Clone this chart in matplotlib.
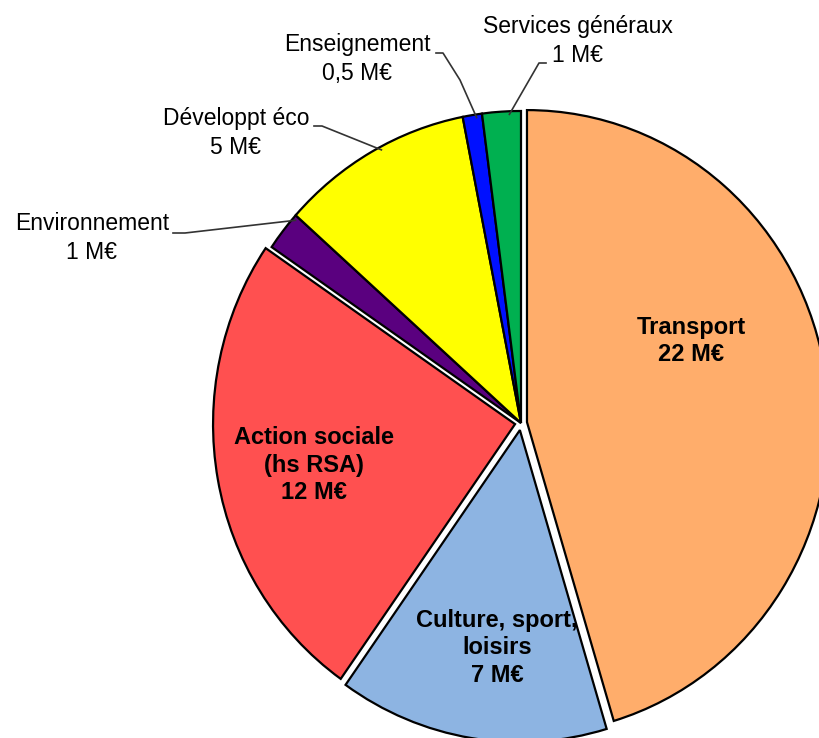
import matplotlib
matplotlib.use("Agg")
import matplotlib.pyplot as plt
import numpy as np

# data
labels = ["Transport", "Culture, sport,\nloisirs", "Action sociale\n(hs RSA)",
          "Environnement", "Développt éco", "Enseignement", "Services généraux"]
values = [22, 7, 12, 1, 5, 0.5, 1]
value_text = ["22 M€", "7 M€", "12 M€", "1 M€", "5 M€", "0,5 M€", "1 M€"]
colors = ["#FFAD6B", "#8DB4E2", "#FF5050", "#5A007F", "#FFFF00", "#0010FF", "#00B050"]
explode = [0.02, 0.023, 0.02, 0, 0, 0, 0]

# layout (pixels in the 820x738 picture)
W, H = 820, 738
CX, CY = 521, 423
RX, RY = 302, 312

def px(x, y):
    return (x - CX) / RX, (CY - y) / RY

fig = plt.figure(figsize=(W / 100, H / 100), dpi=100, facecolor="white")
ax = fig.add_axes([0, 0, 1, 1])
wedges, _ = ax.pie(values, colors=colors, explode=explode, startangle=90,
                   counterclock=False, radius=1,
                   wedgeprops=dict(edgecolor="black", linewidth=1.6))
ax.set_aspect("auto")
ax.set_xlim((0 - CX) / RX, (W - CX) / RX)
ax.set_ylim((CY - H) / RY, CY / RY)
ax.axis("off")

# bold labels inside the big slices
inside = {0: (691, 341), 1: (497, 648), 2: (314, 465)}
for i, (x, y) in inside.items():
    ax.text(*px(x, y), labels[i] + "\n" + value_text[i], ha="center", va="center",
            fontsize=17, fontweight="bold", family="Liberation Sans",
            linespacing=1.25)

# outside labels with leader lines (frac = where along the wedge arc the line ends)
outside = {
    3: dict(pos=(92, 238), line=[(173, 233), (185, 233)], frac=0.1),
    4: dict(pos=(236, 133), line=[(314, 126), (322, 126)], frac=0.45),
    5: dict(pos=(357, 59), line=[(436, 53), (443, 53), (460, 80)], frac=0.3),
    6: dict(pos=(578, 41), line=[(546, 63), (539, 63)], frac=0.3),
}
for i, o in outside.items():
    ax.text(*px(*o["pos"]), labels[i] + "\n" + value_text[i], ha="center", va="center",
            fontsize=16.5, family="Liberation Sans", linespacing=1.3)
    w = wedges[i]
    ang = np.deg2rad(w.theta1 + o["frac"] * (w.theta2 - w.theta1))
    r = w.r * 0.99
    end = (w.center[0] + r * np.cos(ang), w.center[1] + r * np.sin(ang))
    pts = [px(*p) for p in o["line"]] + [end]
    xs, ys = zip(*pts)
    ax.plot(xs, ys, color="#333333", linewidth=1.2)

fig.savefig("out.png", dpi=100, facecolor="white")
